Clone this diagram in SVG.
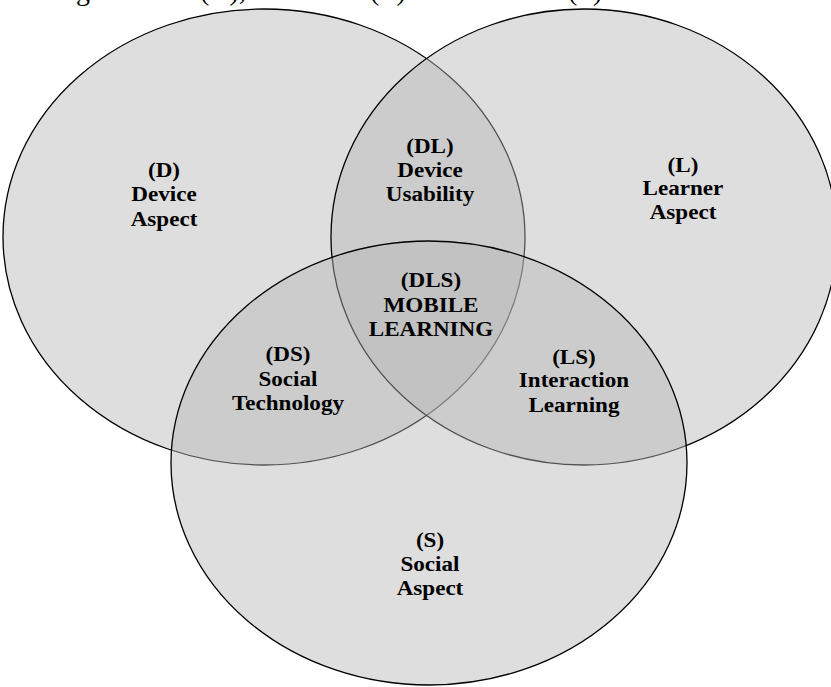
<svg xmlns="http://www.w3.org/2000/svg" width="831" height="687" viewBox="0 0 831 687">
<style>
.c{fill:#b6b6b6;fill-opacity:0.45;stroke:#000;stroke-width:1.3}
.lb{font-family:"Liberation Serif","Times New Roman",serif;font-weight:bold;font-size:21px;fill:#000;text-anchor:middle}
.cap{font-family:"Liberation Serif","Times New Roman",serif;font-size:28px;fill:#000}
</style>
<rect width="831" height="687" fill="#fff"/>
<text class="cap" y="-0.5"><tspan x="-11">Learning</tspan><tspan x="113">device</tspan><tspan x="200">(D),</tspan><tspan x="270">learner</tspan><tspan x="370">(L)</tspan><tspan x="430">and social</tspan><tspan x="568">(S)</tspan></text>
<g id="D"><ellipse class="c" cx="264" cy="237" rx="261" ry="228"/></g>
<g id="L"><ellipse class="c" cx="584" cy="237" rx="253" ry="228"/></g>
<g id="S"><ellipse class="c" cx="429" cy="463" rx="258" ry="222"/></g>
<g id="labels" transform="scale(1.1 1)">
<g id="lD"><text class="lb" x="149.1" y="177">(D)</text><text class="lb" x="149.1" y="201">Device</text><text class="lb" x="149.1" y="226">Aspect</text></g>
<g id="lDL"><text class="lb" x="390.9" y="153">(DL)</text><text class="lb" x="390.9" y="177">Device</text><text class="lb" x="390.9" y="201">Usability</text></g>
<g id="lL"><text class="lb" x="620.9" y="172">(L)</text><text class="lb" x="620.9" y="195">Learner</text><text class="lb" x="620.9" y="219">Aspect</text></g>
<g id="lDLS"><text class="lb" x="391.8" y="287">(DLS)</text><text class="lb" x="391.8" y="312">MOBILE</text><text class="lb" x="391.8" y="336">LEARNING</text></g>
<g id="lDS"><text class="lb" x="261.8" y="361">(DS)</text><text class="lb" x="261.8" y="386">Social</text><text class="lb" x="261.8" y="410">Technology</text></g>
<g id="lLS"><text class="lb" x="521.8" y="364">(LS)</text><text class="lb" x="521.8" y="387">Interaction</text><text class="lb" x="521.8" y="412">Learning</text></g>
<g id="lS"><text class="lb" x="390.9" y="547">(S)</text><text class="lb" x="390.9" y="571">Social</text><text class="lb" x="390.9" y="595">Aspect</text></g>
</g>
<g id="connectors"/>
</svg>
